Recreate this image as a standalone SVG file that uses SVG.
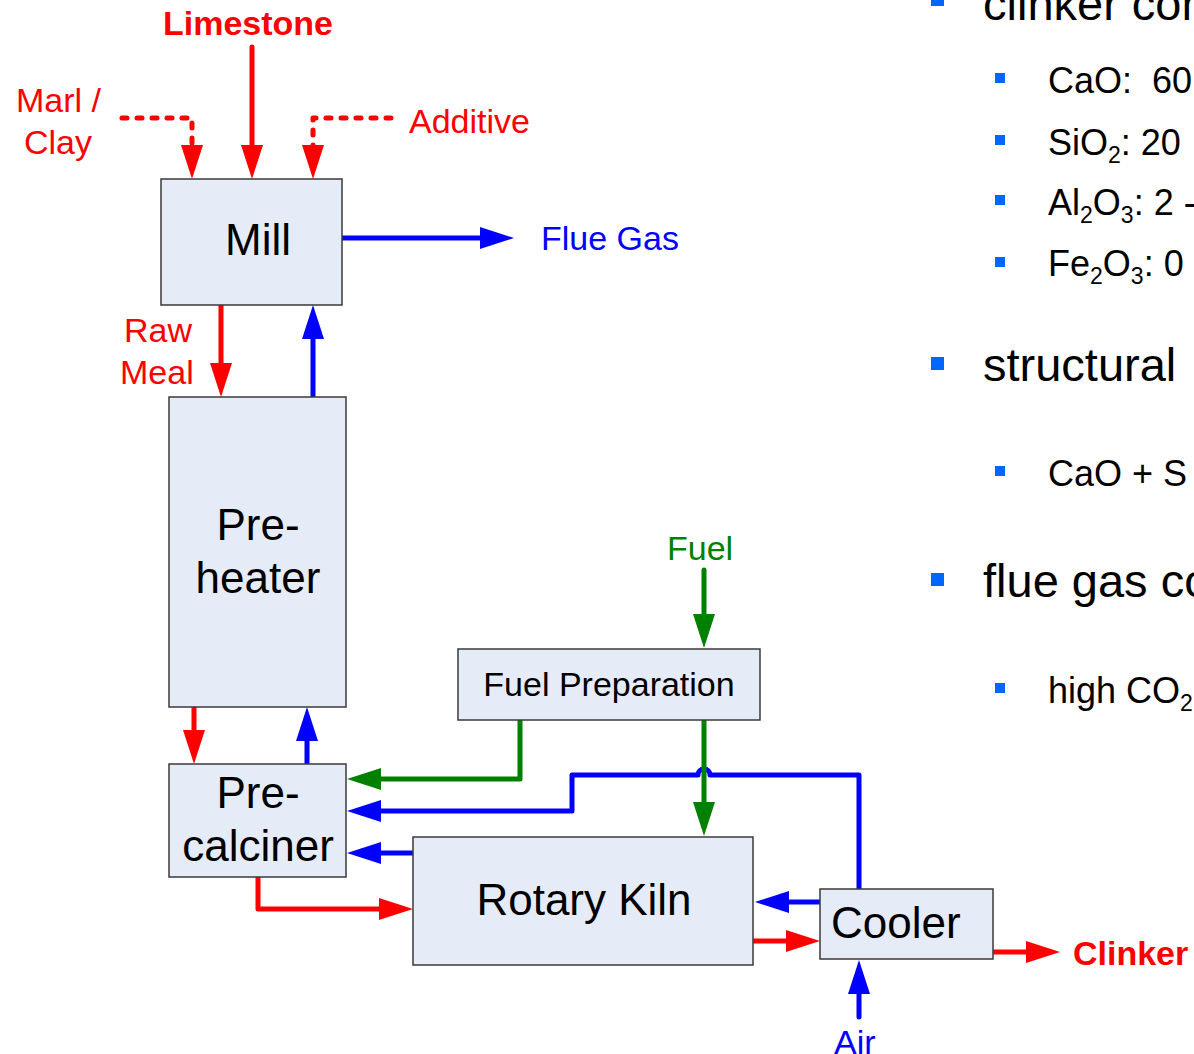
<svg xmlns="http://www.w3.org/2000/svg" width="1194" height="1054" viewBox="0 0 1194 1054">
<style>
.box{fill:#E6ECF7;stroke:#3A3A3A;stroke-width:1.5}
.nt{font-family:"Liberation Sans",Arial,sans-serif;font-size:44px;fill:#000}
.lb{font-family:"Liberation Sans",Arial,sans-serif;font-size:34px}
.r{fill:#FF0000}.b{fill:#0000FF}.g{fill:#008000}
.bold{font-weight:bold}
.c{fill:none;stroke-width:5;stroke-linecap:round;stroke-linejoin:round}
.cr{stroke:#FF0000;marker-end:url(#ar)}
.cb{stroke:#0000FF;marker-end:url(#ab)}
.cg{stroke:#008000;marker-end:url(#ag)}
.dash{stroke-dasharray:5 10}
.t1{font-family:"Liberation Sans",Arial,sans-serif;font-size:47px;fill:#000}
.t2{font-family:"Liberation Sans",Arial,sans-serif;font-size:36px;fill:#000}
.sub{font-size:23px}
.bul{fill:#0066FF}
</style>
<defs>
<marker id="ar" viewBox="0 0 34 22" markerWidth="34" markerHeight="22" markerUnits="userSpaceOnUse" refX="14" refY="11" orient="auto"><path d="M0,0 L34,11 L0,22 z" fill="#FF0000"/></marker>
<marker id="ab" viewBox="0 0 34 22" markerWidth="34" markerHeight="22" markerUnits="userSpaceOnUse" refX="14" refY="11" orient="auto"><path d="M0,0 L34,11 L0,22 z" fill="#0000FF"/></marker>
<marker id="ag" viewBox="0 0 34 22" markerWidth="34" markerHeight="22" markerUnits="userSpaceOnUse" refX="14" refY="11" orient="auto"><path d="M0,0 L34,11 L0,22 z" fill="#008000"/></marker>
</defs>
<rect width="1194" height="1054" fill="#FFFFFF"/>

<g id="connectors">
<path class="c cr" d="M252,47 V159"/>
<path class="c cr dash" d="M122,118 H192 V159"/>
<path class="c cr dash" d="M391,118 H313 V159"/>
<path class="c cb" d="M342,238 H494"/>
<path class="c cr" d="M221,305 V377"/>
<path class="c cb" d="M313,397 V325"/>
<path class="c cr" d="M194,707 V744"/>
<path class="c cb" d="M307,764 V727"/>
<path class="c cg" d="M520,721 V779 H367"/>
<path class="c cb" d="M859,889 V775 H710 A6,6 0 0 0 698,775 H572 V811 H367"/>
<path class="c cg" d="M704,721 V816"/>
<path class="c cg" d="M704,570 V628"/>
<path class="c cb" d="M413,853 H367"/>
<path class="c cr" d="M258,877 V909 H393"/>
<path class="c cb" d="M820,902 H775"/>
<path class="c cr" d="M752,941 H800"/>
<path class="c cr" d="M993,952 H1040"/>
<path class="c cb" d="M859,1017 V980"/>
</g>

<g id="mill"><rect class="box" x="161" y="179" width="181" height="126"/><text class="nt" x="258" y="255" text-anchor="middle">Mill</text></g>
<g id="preheater"><rect class="box" x="169" y="397" width="177" height="310"/><text class="nt" x="258" y="540" text-anchor="middle">Pre-</text><text class="nt" x="258" y="593" text-anchor="middle">heater</text></g>
<g id="precalciner"><rect class="box" x="169" y="764" width="177" height="113"/><text class="nt" x="258" y="808" text-anchor="middle">Pre-</text><text class="nt" x="258" y="861" text-anchor="middle">calciner</text></g>
<g id="fuelprep"><rect class="box" x="458" y="649" width="302" height="71"/><text class="lb" x="609" y="696" text-anchor="middle" fill="#000">Fuel Preparation</text></g>
<g id="kiln"><rect class="box" x="413" y="837" width="340" height="128"/><text class="nt" x="584" y="915" text-anchor="middle">Rotary Kiln</text></g>
<g id="cooler"><rect class="box" x="820" y="889" width="173" height="70"/><text class="nt" x="831" y="938">Cooler</text></g>

<g id="labels">
<text class="lb r bold" x="248" y="35" text-anchor="middle">Limestone</text>
<text class="lb r" x="16" y="112">Marl /</text>
<text class="lb r" x="24" y="154">Clay</text>
<text class="lb r" x="409" y="133">Additive</text>
<text class="lb b" x="541" y="250">Flue Gas</text>
<text class="lb r" x="124" y="342">Raw</text>
<text class="lb r" x="120" y="384">Meal</text>
<text class="lb g" x="667" y="560">Fuel</text>
<text class="lb b" x="834" y="1054">Air</text>
<text class="lb r bold" x="1073" y="965">Clinker</text>
</g>

<g id="bullets">
<rect class="bul" x="931" y="-7" width="13" height="13"/>
<text class="t1" x="983" y="20">clinker com</text>
<rect class="bul" x="995" y="73" width="10" height="10"/>
<text class="t2" x="1048" y="93" xml:space="preserve">CaO:  60</text>
<rect class="bul" x="995" y="135" width="10" height="10"/>
<text class="t2" x="1048" y="155">SiO<tspan class="sub" dy="8">2</tspan><tspan dy="-8">: 20</tspan></text>
<rect class="bul" x="995" y="195" width="10" height="10"/>
<text class="t2" x="1048" y="215">Al<tspan class="sub" dy="8">2</tspan><tspan dy="-8">O</tspan><tspan class="sub" dy="8">3</tspan><tspan dy="-8">: 2 -</tspan></text>
<rect class="bul" x="995" y="257" width="10" height="10"/>
<text class="t2" x="1048" y="276">Fe<tspan class="sub" dy="8">2</tspan><tspan dy="-8">O</tspan><tspan class="sub" dy="8">3</tspan><tspan dy="-8">: 0</tspan></text>
<rect class="bul" x="931" y="357" width="13" height="13"/>
<text class="t1" x="983" y="381">structural</text>
<rect class="bul" x="995" y="466" width="10" height="10"/>
<text class="t2" x="1048" y="486">CaO + S</text>
<rect class="bul" x="931" y="573" width="13" height="13"/>
<text class="t1" x="983" y="597">flue gas co</text>
<rect class="bul" x="995" y="683" width="10" height="10"/>
<text class="t2" x="1048" y="703">high CO<tspan class="sub" dy="8">2</tspan></text>
</g>
</svg>
